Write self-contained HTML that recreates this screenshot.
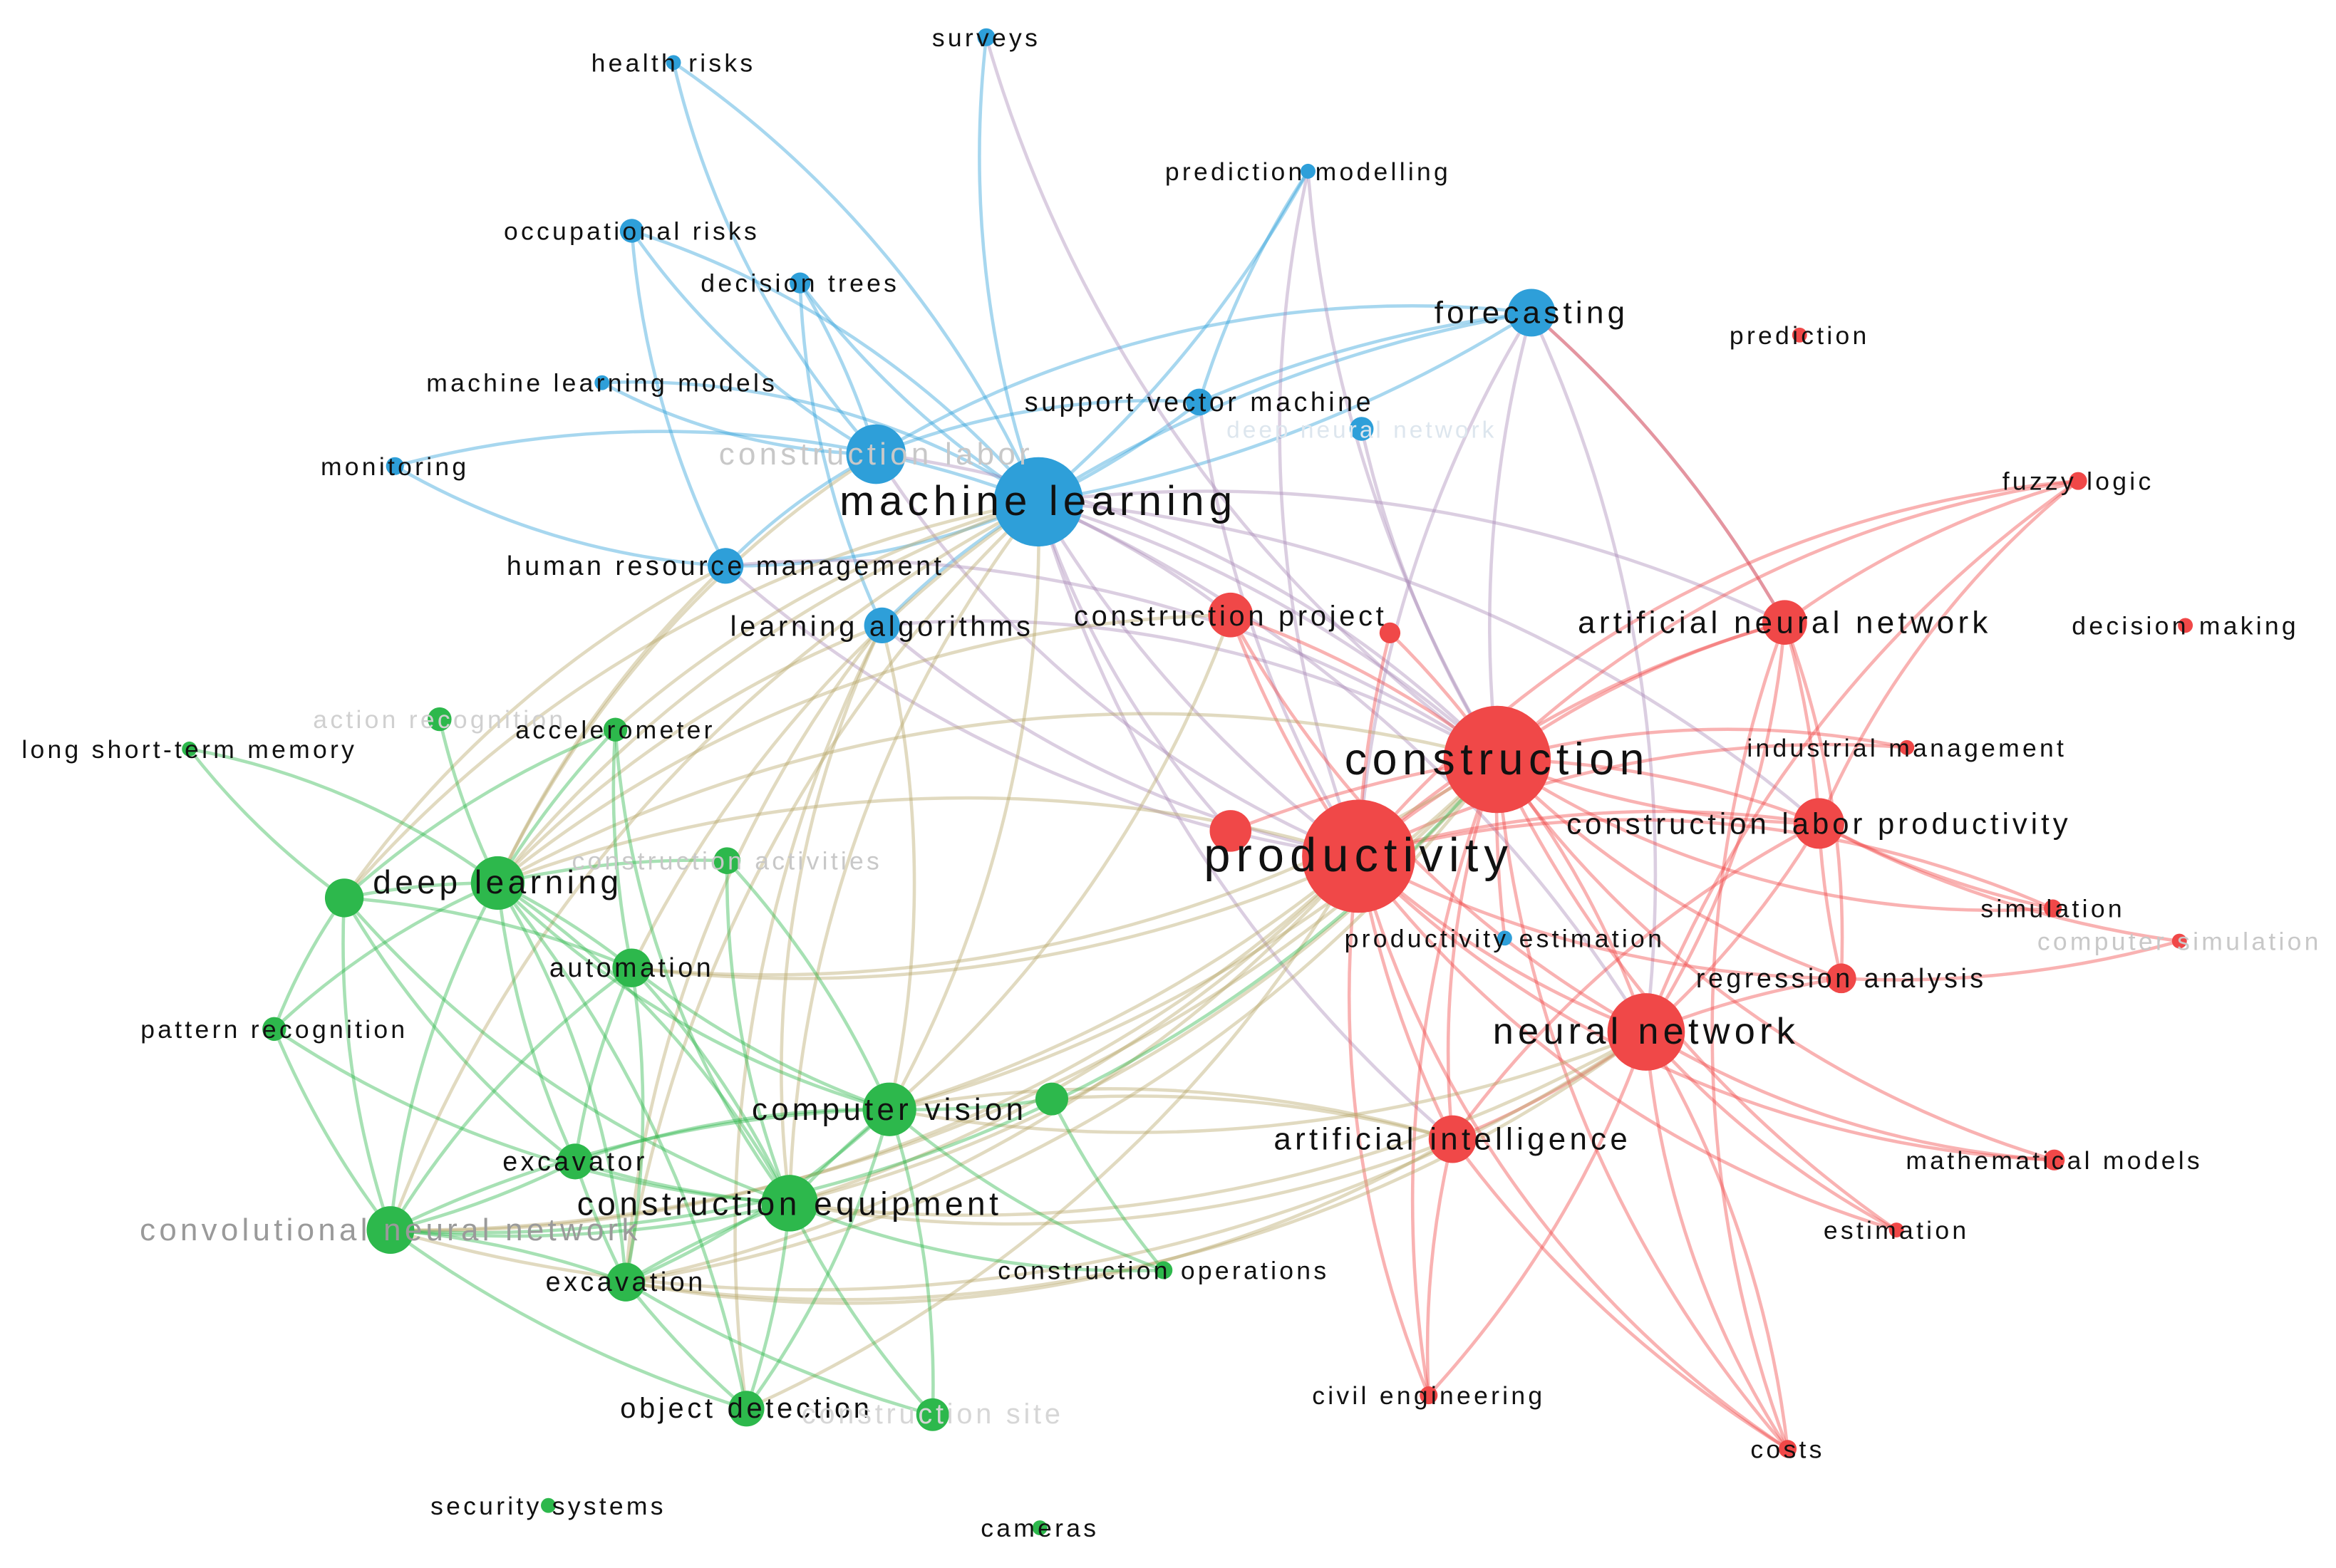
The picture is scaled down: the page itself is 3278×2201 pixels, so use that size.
<!DOCTYPE html>
<html><head><meta charset="utf-8">
<style>
html,body{margin:0;padding:0;background:#fff;}
svg{display:block;}
text{font-family:"Liberation Sans","DejaVu Sans",sans-serif;text-anchor:middle;letter-spacing:0.12em;}
</style></head>
<body>
<svg width="3278" height="2201" viewBox="0 0 1568 1053" xmlns="http://www.w3.org/2000/svg">
<g fill="none" stroke-width="2.2" stroke-opacity="0.42">
<g stroke="#2e9fd9">
<path d="M697 337A700 700 0 0 0 452 42"/>
<path d="M697 337A700 700 0 0 1 662 25"/>
<path d="M697 337A600 600 0 0 0 424 155"/>
<path d="M697 337A600 600 0 0 1 537 190"/>
<path d="M697 337A500 500 0 0 0 404 257"/>
<path d="M697 337A900 900 0 0 0 1028 210"/>
<path d="M697 337A900 900 0 0 1 1028 210"/>
<path d="M697 337A600 600 0 0 0 805 270"/>
<path d="M697 337A500 500 0 0 1 487 380"/>
<path d="M697 337A500 500 0 0 0 592 420"/>
<path d="M697 337A700 700 0 0 0 265 313"/>
<path d="M697 337A800 800 0 0 0 878 115"/>
<path d="M588 305A500 500 0 0 1 424 155"/>
<path d="M588 305A500 500 0 0 0 537 190"/>
<path d="M588 305A600 600 0 0 1 452 42"/>
<path d="M588 305A400 400 0 0 1 404 257"/>
<path d="M588 305A400 400 0 0 0 487 380"/>
<path d="M265 313A500 500 0 0 0 487 380"/>
<path d="M424 155A600 600 0 0 0 487 380"/>
<path d="M537 190A600 600 0 0 0 592 420"/>
<path d="M1028 210A800 800 0 0 0 805 270"/>
<path d="M1028 210A700 700 0 0 0 588 305"/>
<path d="M878 115A600 600 0 0 0 805 270"/>
<path d="M805 270A500 500 0 0 0 588 305"/>
</g>
<g stroke="#a98ab8">
<path d="M697 337A800 800 0 0 1 1005 510"/>
<path d="M697 337A800 800 0 0 0 912 575"/>
<path d="M697 337A600 600 0 0 1 826 413"/>
<path d="M697 337A900 900 0 0 1 1105 693"/>
<path d="M697 337A900 900 0 0 1 1198 418"/>
<path d="M697 337A900 900 0 0 0 975 765"/>
<path d="M697 337A900 900 0 0 1 1221 553"/>
<path d="M697 337A600 600 0 0 0 826 558"/>
<path d="M588 305A700 700 0 0 1 1005 510"/>
<path d="M588 305A700 700 0 0 0 912 575"/>
<path d="M487 380A800 800 0 0 1 1005 510"/>
<path d="M487 380A800 800 0 0 0 912 575"/>
<path d="M592 420A700 700 0 0 0 912 575"/>
<path d="M592 420A700 700 0 0 1 1005 510"/>
<path d="M1028 210A800 800 0 0 0 1005 510"/>
<path d="M1028 210A800 800 0 0 0 912 575"/>
<path d="M1028 210A800 800 0 0 1 1198 418"/>
<path d="M1028 210A900 900 0 0 1 1105 693"/>
<path d="M662 25A900 900 0 0 0 1005 510"/>
<path d="M878 115A800 800 0 0 0 912 575"/>
<path d="M878 115A900 900 0 0 0 1005 510"/>
<path d="M805 270A800 800 0 0 0 912 575"/>
<path d="M914 288A700 700 0 0 0 1005 510"/>
</g>
<g stroke="#f04848">
<path d="M1005 510A600 600 0 0 0 912 575"/>
<path d="M1005 510A600 600 0 0 1 1105 693"/>
<path d="M1005 510A600 600 0 0 1 1198 418"/>
<path d="M1005 510A600 600 0 0 1 1221 553"/>
<path d="M1005 510A600 600 0 0 0 1221 553"/>
<path d="M1005 510A600 600 0 0 1 1280 502"/>
<path d="M1005 510A700 700 0 0 1 1395 323"/>
<path d="M1005 510A600 600 0 0 0 1236 657"/>
<path d="M1005 510A600 600 0 0 0 975 765"/>
<path d="M1005 510A600 600 0 0 0 1378 610"/>
<path d="M1005 510A600 600 0 0 0 826 413"/>
<path d="M1005 510A600 600 0 0 0 933 425"/>
<path d="M1005 510A700 700 0 0 0 1379 779"/>
<path d="M1005 510A800 800 0 0 0 959 937"/>
<path d="M1005 510A800 800 0 0 0 826 558"/>
<path d="M1005 510A800 800 0 0 0 1200 973"/>
<path d="M1005 510A800 800 0 0 0 1273 826"/>
<path d="M1005 510A800 800 0 0 0 1010 630"/>
<path d="M912 575A600 600 0 0 0 1105 693"/>
<path d="M912 575A700 700 0 0 1 1198 418"/>
<path d="M912 575A700 700 0 0 1 1221 553"/>
<path d="M912 575A700 700 0 0 0 1236 657"/>
<path d="M912 575A700 700 0 0 0 975 765"/>
<path d="M912 575A700 700 0 0 1 826 413"/>
<path d="M912 575A700 700 0 0 0 1379 779"/>
<path d="M912 575A700 700 0 0 0 959 937"/>
<path d="M912 575A700 700 0 0 0 1200 973"/>
<path d="M912 575A700 700 0 0 0 1273 826"/>
<path d="M912 575A700 700 0 0 1 1378 610"/>
<path d="M912 575A700 700 0 0 1 1395 323"/>
<path d="M912 575A700 700 0 0 1 1280 502"/>
<path d="M912 575A700 700 0 0 1 933 425"/>
<path d="M1105 693A600 600 0 0 0 1198 418"/>
<path d="M1105 693A600 600 0 0 0 1221 553"/>
<path d="M1105 693A600 600 0 0 0 1379 779"/>
<path d="M1105 693A600 600 0 0 0 1273 826"/>
<path d="M1105 693A600 600 0 0 0 1200 973"/>
<path d="M1105 693A700 700 0 0 1 1200 973"/>
<path d="M1105 693A600 600 0 0 1 1236 657"/>
<path d="M1105 693A700 700 0 0 1 959 937"/>
<path d="M1105 693A600 600 0 0 1 975 765"/>
<path d="M1105 693A800 800 0 0 1 1395 323"/>
<path d="M1198 418A600 600 0 0 1 1395 323"/>
<path d="M1198 418A600 600 0 0 1 1221 553"/>
<path d="M1198 418A600 600 0 0 1 1236 657"/>
<path d="M1198 418A800 800 0 0 0 1028 210"/>
<path d="M1198 418A800 800 0 0 0 1200 973"/>
<path d="M1221 553A600 600 0 0 0 1378 610"/>
<path d="M1221 553A600 600 0 0 0 1236 657"/>
<path d="M1221 553A600 600 0 0 1 1395 323"/>
<path d="M1221 553A700 700 0 0 0 1463 632"/>
<path d="M1236 657A700 700 0 0 0 1463 632"/>
<path d="M975 765A600 600 0 0 0 959 937"/>
<path d="M975 765A800 800 0 0 0 1200 973"/>
<path d="M975 765A700 700 0 0 1 1221 553"/>
<path d="M826 413A700 700 0 0 0 1105 693"/>
</g>
<g stroke="#b8a86a">
<path d="M912 575A900 900 0 0 0 334 593"/>
<path d="M912 575A900 900 0 0 1 597 745"/>
<path d="M912 575A900 900 0 0 1 530 808"/>
<path d="M912 575A900 900 0 0 1 424 650"/>
<path d="M912 575A900 900 0 0 1 420 861"/>
<path d="M912 575A900 900 0 0 1 262 826"/>
<path d="M912 575A900 900 0 0 1 501 946"/>
<path d="M1005 510A900 900 0 0 1 597 745"/>
<path d="M1005 510A900 900 0 0 0 334 593"/>
<path d="M1005 510A900 900 0 0 1 530 808"/>
<path d="M1005 510A900 900 0 0 1 424 650"/>
<path d="M1005 510A900 900 0 0 1 420 861"/>
<path d="M1005 510A1000 1000 0 0 1 262 826"/>
<path d="M1105 693A900 900 0 0 1 530 808"/>
<path d="M1105 693A900 900 0 0 1 420 861"/>
<path d="M1105 693A900 900 0 0 1 597 745"/>
<path d="M1105 693A1000 1000 0 0 1 262 826"/>
<path d="M975 765A800 800 0 0 0 597 745"/>
<path d="M975 765A800 800 0 0 1 530 808"/>
<path d="M975 765A800 800 0 0 1 420 861"/>
<path d="M975 765A800 800 0 0 0 706 738"/>
<path d="M826 413A800 800 0 0 0 334 593"/>
<path d="M826 413A800 800 0 0 1 597 745"/>
<path d="M697 337A800 800 0 0 0 334 593"/>
<path d="M697 337A800 800 0 0 1 597 745"/>
<path d="M697 337A800 800 0 0 0 530 808"/>
<path d="M697 337A800 800 0 0 0 424 650"/>
<path d="M697 337A700 700 0 0 0 413 490"/>
<path d="M697 337A800 800 0 0 0 231 603"/>
<path d="M697 337A900 900 0 0 0 262 826"/>
<path d="M697 337A900 900 0 0 0 420 861"/>
<path d="M592 420A700 700 0 0 1 597 745"/>
<path d="M592 420A700 700 0 0 0 530 808"/>
<path d="M592 420A700 700 0 0 0 334 593"/>
<path d="M592 420A800 800 0 0 0 420 861"/>
<path d="M592 420A900 900 0 0 0 501 946"/>
<path d="M487 380A700 700 0 0 0 334 593"/>
<path d="M487 380A700 700 0 0 0 231 603"/>
<path d="M588 305A700 700 0 0 0 334 593"/>
</g>
<g stroke="#2db84c">
<path d="M334 593A500 500 0 0 0 231 603"/>
<path d="M334 593A500 500 0 0 1 424 650"/>
<path d="M334 593A600 600 0 0 0 597 745"/>
<path d="M334 593A600 600 0 0 1 530 808"/>
<path d="M334 593A600 600 0 0 0 386 780"/>
<path d="M334 593A600 600 0 0 1 420 861"/>
<path d="M334 593A600 600 0 0 0 262 826"/>
<path d="M334 593A500 500 0 0 0 184 691"/>
<path d="M334 593A600 600 0 0 1 413 490"/>
<path d="M334 593A500 500 0 0 0 127 503"/>
<path d="M334 593A800 800 0 0 1 501 946"/>
<path d="M334 593A600 600 0 0 1 488 578"/>
<path d="M231 603A400 400 0 0 0 184 691"/>
<path d="M231 603A600 600 0 0 0 262 826"/>
<path d="M231 603A500 500 0 0 1 127 503"/>
<path d="M231 603A600 600 0 0 0 386 780"/>
<path d="M231 603A600 600 0 0 1 413 490"/>
<path d="M231 603A700 700 0 0 0 530 808"/>
<path d="M231 603A600 600 0 0 1 424 650"/>
<path d="M184 691A600 600 0 0 0 262 826"/>
<path d="M184 691A700 700 0 0 0 530 808"/>
<path d="M424 650A600 600 0 0 0 597 745"/>
<path d="M424 650A600 600 0 0 1 530 808"/>
<path d="M424 650A500 500 0 0 0 386 780"/>
<path d="M424 650A600 600 0 0 1 420 861"/>
<path d="M424 650A600 600 0 0 0 262 826"/>
<path d="M597 745A600 600 0 0 0 530 808"/>
<path d="M597 745A600 600 0 0 0 386 780"/>
<path d="M597 745A600 600 0 0 1 420 861"/>
<path d="M597 745A800 800 0 0 0 262 826"/>
<path d="M597 745A600 600 0 0 1 501 946"/>
<path d="M597 745A600 600 0 0 0 706 738"/>
<path d="M597 745A600 600 0 0 0 781 853"/>
<path d="M530 808A600 600 0 0 1 386 780"/>
<path d="M530 808A600 600 0 0 0 420 861"/>
<path d="M530 808A800 800 0 0 1 262 826"/>
<path d="M530 808A600 600 0 0 1 501 946"/>
<path d="M530 808A600 600 0 0 0 626 950"/>
<path d="M530 808A600 600 0 0 0 781 853"/>
<path d="M386 780A600 600 0 0 1 262 826"/>
<path d="M386 780A600 600 0 0 0 420 861"/>
<path d="M420 861A600 600 0 0 0 262 826"/>
<path d="M420 861A600 600 0 0 0 501 946"/>
<path d="M420 861A800 800 0 0 0 626 950"/>
<path d="M262 826A800 800 0 0 0 501 946"/>
<path d="M413 490A600 600 0 0 0 530 808"/>
<path d="M413 490A600 600 0 0 0 424 650"/>
<path d="M488 578A600 600 0 0 0 530 808"/>
<path d="M488 578A600 600 0 0 1 597 745"/>
<path d="M295 483A500 500 0 0 0 334 593"/>
<path d="M706 738A600 600 0 0 0 781 853"/>
<path d="M597 745A600 600 0 0 1 626 950"/>
<path d="M262 826A900 900 0 0 0 1005 510"/>
</g>
</g>
<g>
<circle cx="452" cy="42" r="5" fill="#2e9fd9"/>
<circle cx="662" cy="25" r="6" fill="#2e9fd9"/>
<circle cx="878" cy="115" r="5" fill="#2e9fd9"/>
<circle cx="424" cy="155" r="8" fill="#2e9fd9"/>
<circle cx="537" cy="190" r="7" fill="#2e9fd9"/>
<circle cx="1028" cy="210" r="16" fill="#2e9fd9"/>
<circle cx="404" cy="257" r="5" fill="#2e9fd9"/>
<circle cx="805" cy="270" r="9" fill="#2e9fd9"/>
<circle cx="914" cy="288" r="8" fill="#2e9fd9"/>
<circle cx="588" cy="305" r="20" fill="#2e9fd9"/>
<circle cx="697" cy="337" r="30" fill="#2e9fd9"/>
<circle cx="265" cy="313" r="6" fill="#2e9fd9"/>
<circle cx="487" cy="380" r="12" fill="#2e9fd9"/>
<circle cx="592" cy="420" r="12" fill="#2e9fd9"/>
<circle cx="1010" cy="630" r="5" fill="#2e9fd9"/>
<circle cx="1208" cy="225" r="5" fill="#f04848"/>
<circle cx="1395" cy="323" r="6" fill="#f04848"/>
<circle cx="826" cy="413" r="15" fill="#f04848"/>
<circle cx="933" cy="425" r="7" fill="#f04848"/>
<circle cx="1198" cy="418" r="15" fill="#f04848"/>
<circle cx="1467" cy="420" r="5" fill="#f04848"/>
<circle cx="1005" cy="510" r="36" fill="#f04848"/>
<circle cx="1280" cy="502" r="5" fill="#f04848"/>
<circle cx="1221" cy="553" r="17" fill="#f04848"/>
<circle cx="826" cy="558" r="14" fill="#f04848"/>
<circle cx="912" cy="575" r="38" fill="#f04848"/>
<circle cx="1378" cy="610" r="6" fill="#f04848"/>
<circle cx="1463" cy="632" r="5" fill="#f04848"/>
<circle cx="1236" cy="657" r="10" fill="#f04848"/>
<circle cx="1105" cy="693" r="26" fill="#f04848"/>
<circle cx="975" cy="765" r="16" fill="#f04848"/>
<circle cx="1379" cy="779" r="7" fill="#f04848"/>
<circle cx="1273" cy="826" r="5" fill="#f04848"/>
<circle cx="959" cy="937" r="6" fill="#f04848"/>
<circle cx="1200" cy="973" r="6" fill="#f04848"/>
<circle cx="295" cy="483" r="8" fill="#2db84c"/>
<circle cx="413" cy="490" r="8" fill="#2db84c"/>
<circle cx="127" cy="503" r="5" fill="#2db84c"/>
<circle cx="488" cy="578" r="9" fill="#2db84c"/>
<circle cx="334" cy="593" r="18" fill="#2db84c"/>
<circle cx="231" cy="603" r="13" fill="#2db84c"/>
<circle cx="424" cy="650" r="13" fill="#2db84c"/>
<circle cx="184" cy="691" r="8" fill="#2db84c"/>
<circle cx="597" cy="745" r="18" fill="#2db84c"/>
<circle cx="706" cy="738" r="11" fill="#2db84c"/>
<circle cx="386" cy="780" r="12" fill="#2db84c"/>
<circle cx="530" cy="808" r="19" fill="#2db84c"/>
<circle cx="262" cy="826" r="16" fill="#2db84c"/>
<circle cx="420" cy="861" r="13" fill="#2db84c"/>
<circle cx="781" cy="853" r="6" fill="#2db84c"/>
<circle cx="501" cy="946" r="12" fill="#2db84c"/>
<circle cx="626" cy="950" r="11" fill="#2db84c"/>
<circle cx="368" cy="1011" r="5" fill="#2db84c"/>
<circle cx="698" cy="1026" r="5" fill="#2db84c"/>
</g>
<g fill="#111">
<text x="452" y="48" font-size="17">health risks</text>
<text x="662" y="31" font-size="17">surveys</text>
<text x="878" y="121" font-size="17">prediction modelling</text>
<text x="424" y="161" font-size="17">occupational risks</text>
<text x="537" y="196" font-size="17">decision trees</text>
<text x="1028" y="217" font-size="21">forecasting</text>
<text x="404" y="263" font-size="17">machine learning models</text>
<text x="805" y="276" font-size="18">support vector machine</text>
<text x="914" y="294" font-size="16" fill="#dde6ee">deep neural network</text>
<text x="588" y="312" font-size="21" fill="#c8c8c8">construction labor</text>
<text x="697" y="346" font-size="28">machine learning</text>
<text x="265" y="319" font-size="17">monitoring</text>
<text x="487" y="386" font-size="18">human resource management</text>
<text x="592" y="427" font-size="19">learning algorithms</text>
<text x="1208" y="231" font-size="17">prediction</text>
<text x="1395" y="329" font-size="17">fuzzy logic</text>
<text x="826" y="420" font-size="19">construction project</text>
<text x="1198" y="425" font-size="21">artificial neural network</text>
<text x="1467" y="426" font-size="17">decision making</text>
<text x="1005" y="520" font-size="30">construction</text>
<text x="1280" y="508" font-size="17">industrial management</text>
<text x="1221" y="560" font-size="20">construction labor productivity</text>
<text x="912" y="585" font-size="32">productivity</text>
<text x="1378" y="616" font-size="17">simulation</text>
<text x="1463" y="638" font-size="17" fill="#c8c8c8">computer simulation</text>
<text x="1010" y="636" font-size="17">productivity estimation</text>
<text x="1236" y="663" font-size="18">regression analysis</text>
<text x="1105" y="701" font-size="25">neural network</text>
<text x="975" y="772" font-size="21">artificial intelligence</text>
<text x="1379" y="785" font-size="17">mathematical models</text>
<text x="1273" y="832" font-size="17">estimation</text>
<text x="959" y="943" font-size="17">civil engineering</text>
<text x="1200" y="979" font-size="17">costs</text>
<text x="295" y="489" font-size="17" fill="#d0d0d0">action recognition</text>
<text x="413" y="496" font-size="17">accelerometer</text>
<text x="127" y="509" font-size="17">long short-term memory</text>
<text x="488" y="584" font-size="17" fill="#c8c8c8">construction activities</text>
<text x="334" y="600" font-size="22">deep learning</text>
<text x="424" y="656" font-size="18">automation</text>
<text x="184" y="697" font-size="17">pattern recognition</text>
<text x="597" y="752" font-size="21">computer vision</text>
<text x="386" y="786" font-size="18">excavator</text>
<text x="530" y="816" font-size="22">construction equipment</text>
<text x="262" y="833" font-size="21" fill="#9a9a9a">convolutional neural network</text>
<text x="420" y="867" font-size="18">excavation</text>
<text x="781" y="859" font-size="17">construction operations</text>
<text x="501" y="952" font-size="19">object detection</text>
<text x="626" y="956" font-size="19" fill="#d6d6d6">construction site</text>
<text x="368" y="1017" font-size="17">security systems</text>
<text x="698" y="1032" font-size="17">cameras</text>
</g>
</svg>
</body></html>
